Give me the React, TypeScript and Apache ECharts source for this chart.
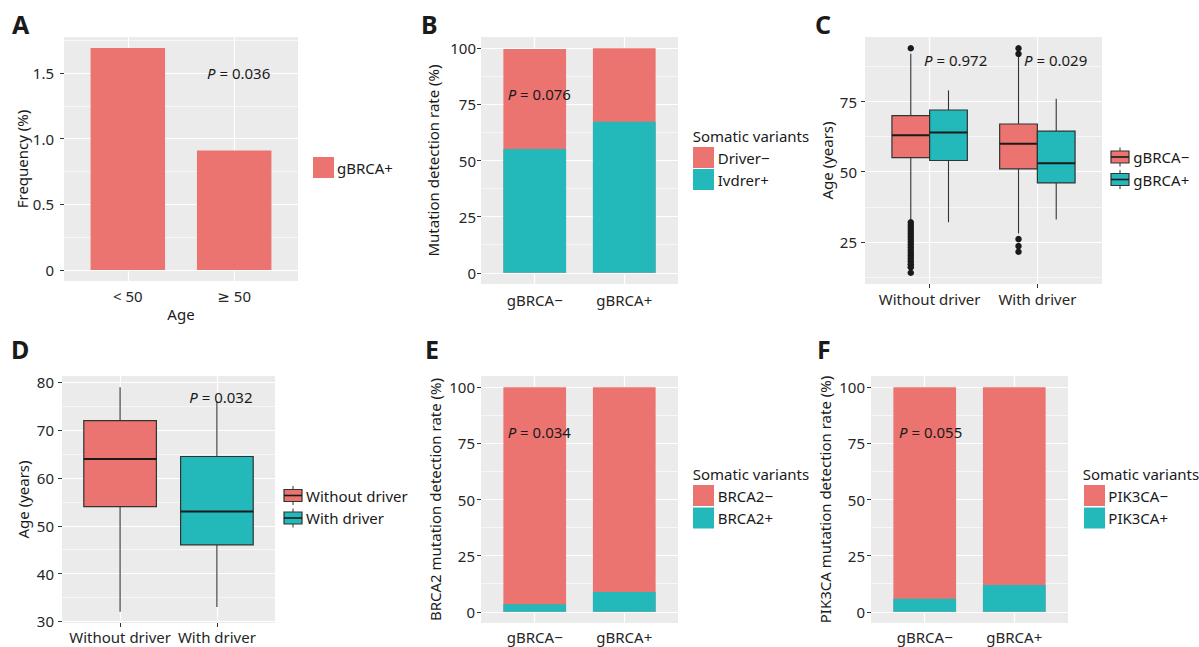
import React, { useEffect, useRef } from "react";
import * as echarts from "echarts";

// ---------------- data ----------------
// Panel A
const ageGroups = ["< 50", "≥ 50"];
const gbrcaPosFrequency = [1.69, 0.91];
const freqBreaks = [0, 0.5, 1.0, 1.5];
const freqBreakLabels = ["0", "0.5", "1.0", "1.5"];

// Panel B
const gbrcaGroups = ["gBRCA−", "gBRCA+"];
const driverNegRate = [44.6, 32.7];
const driverPosRate = [55.1, 67.3];
const pctBreaks = [0, 25, 50, 75, 100];
const pctBreakLabels = ["0", "25", "50", "75", "100"];
const driverLegend = ["Driver−", "Ivdrer+"];

// Panel C  [min, Q1, median, Q3, max]
const driverGroups = ["Without driver", "With driver"];
const ageStatsGbrcaNeg = [
  [33, 55, 63, 70, 92],
  [28, 51, 60, 67, 91],
];
const ageStatsGbrcaPos = [
  [32, 54, 64, 72, 79],
  [33, 46, 53, 64.5, 76],
];
const ageOutliersWithoutNeg = [94, 32, 31, 30, 29, 28, 27, 26, 25, 24, 23, 22, 21, 20, 19, 18, 17, 16, 14];
const ageOutliersWithNeg = [94, 92, 26, 23.5, 21.5];
const ageBreaksC = [25, 50, 75];
const gbrcaLegend = ["gBRCA−", "gBRCA+"];

// Panel D
const ageStatsD = [
  [32, 54, 64, 72, 79],
  [33, 46, 53, 64.5, 76],
];
const ageBreaksD = [30, 40, 50, 60, 70, 80];

// Panel E
const brca2NegRate = [96.6, 91.2];
const brca2PosRate = [3.4, 8.8];
const brca2Legend = ["BRCA2−", "BRCA2+"];

// Panel F
const pik3caNegRate = [94.2, 88.1];
const pik3caPosRate = [5.8, 11.9];
const pik3caLegend = ["PIK3CA−", "PIK3CA+"];

const pValues = ["0.036", "0.076", "0.972", "0.029", "0.032", "0.034", "0.055"];

// ---------------- styling ----------------
const FONT = "'Noto Sans', 'DejaVu Sans', sans-serif";
const RED = "#EC7470";
const TEAL = "#23B8B9";
const PANEL_BG = "#EBEBEB";
const TICK_TEXT = "#262626";
const TITLE_TEXT = "#1A1A1A";
const FS = 15;
const X_LIM = [0.4, 2.6];
const BAR_W = 0.7;
const DODGE_W = 0.35;
const BOX_W_D = 0.75;

function expand(lo: number, hi: number) {
  const d = (hi - lo) * 0.05;
  return [lo - d, hi + d];
}
function minorBreaks(breaks: number[], lim: number[]) {
  const step = breaks[1] - breaks[0];
  const out: number[] = [];
  for (let v = breaks[0] - step / 2; v <= breaks[breaks.length - 1] + step / 2 + 1e-9; v += step) {
    if (v >= lim[0] && v <= lim[1]) out.push(v);
  }
  return out;
}
const maxOf = (a: number[]) => Math.max(...a);
const minOf = (a: number[]) => Math.min(...a);
const sumPairs = (a: number[], b: number[]) => a.map((v, i) => v + b[i]);

const allC = [...ageStatsGbrcaNeg.flat(), ...ageStatsGbrcaPos.flat(), ...ageOutliersWithoutNeg, ...ageOutliersWithNeg];
const allD = ageStatsD.flat();

const panels = [
  { left: 64, top: 37, width: 234, height: 244, yLim: expand(0, maxOf(gbrcaPosFrequency)), yBreaks: freqBreaks, yLabels: freqBreakLabels, xLabels: ageGroups, yName: "Frequency (%)", yNameGap: 35, yMargin: 10, xMargin: 7, xName: "Age" },
  { left: 481, top: 37, width: 197, height: 247, yLim: expand(0, maxOf(sumPairs(driverNegRate, driverPosRate))), yBreaks: pctBreaks, yLabels: pctBreakLabels, xLabels: gbrcaGroups, yName: "Mutation detection rate (%)", yNameGap: 41, yMargin: 5, xMargin: 8 },
  { left: 865, top: 37, width: 237, height: 247, yLim: expand(minOf(allC), maxOf(allC)), yBreaks: ageBreaksC, yLabels: ageBreaksC.map(String), xLabels: driverGroups, yName: "Age (years)", yNameGap: 31, yMargin: 8, xMargin: 7 },
  { left: 62, top: 376, width: 213, height: 247, yLim: expand(minOf(allD), maxOf(allD)), yBreaks: ageBreaksD, yLabels: ageBreaksD.map(String), xLabels: driverGroups, yName: "Age (years)", yNameGap: 32, yMargin: 8, xMargin: 6 },
  { left: 481, top: 376, width: 197, height: 247, yLim: expand(0, maxOf(sumPairs(brca2NegRate, brca2PosRate))), yBreaks: pctBreaks, yLabels: pctBreakLabels, xLabels: gbrcaGroups, yName: "BRCA2 mutation detection rate (%)", yNameGap: 39, yMargin: 6, xMargin: 6 },
  { left: 871, top: 376, width: 197, height: 247, yLim: expand(0, maxOf(sumPairs(pik3caNegRate, pik3caPosRate))), yBreaks: pctBreaks, yLabels: pctBreakLabels, xLabels: gbrcaGroups, yName: "PIK3CA mutation detection rate (%)", yNameGap: 39, yMargin: 6, xMargin: 6 },
];

const pxPerUnit = (i: number) => panels[i].width / (X_LIM[1] - X_LIM[0]);

function gridSeries(i: number) {
  const p = panels[i];
  const minor = minorBreaks(p.yBreaks, p.yLim);
  return {
    type: "scatter",
    name: "grid" + i,
    xAxisIndex: i,
    yAxisIndex: i,
    data: [],
    silent: true,
    markLine: {
      silent: true,
      z: 1,
      symbol: ["none", "none"],
      label: { show: false },
      emphasis: { disabled: true },
      lineStyle: { color: "#FFFFFF", type: "solid", width: 1.2 },
      data: [
        ...minor.map((v) => ({ yAxis: v, lineStyle: { color: "#FFFFFF", type: "solid", width: 0.6 } })),
        ...p.yBreaks.map((v) => ({ yAxis: v, lineStyle: { color: "#FFFFFF", type: "solid", width: 1.2 } })),
        ...p.xLabels.map((_, k) => ({ xAxis: k + 1, lineStyle: { color: "#FFFFFF", type: "solid", width: 1.2 } })),
      ],
    },
  };
}

function boxRenderer(widthUnits: number, colors: string[]) {
  return (params: any, api: any) => {
    const x = api.value(0);
    const pMin = api.coord([x, api.value(1)]);
    const pQ1 = api.coord([x, api.value(2)]);
    const pMed = api.coord([x, api.value(3)]);
    const pQ3 = api.coord([x, api.value(4)]);
    const pMax = api.coord([x, api.value(5)]);
    const w = api.size([widthUnits, 0], [x, api.value(3)])[0];
    const cx = pMed[0];
    const fill = colors[params.dataIndex % colors.length];
    return {
      type: "group",
      children: [
        { type: "line", shape: { x1: cx, y1: pMax[1], x2: cx, y2: pQ3[1] }, style: { stroke: "#333333", lineWidth: 1.1 } },
        { type: "line", shape: { x1: cx, y1: pQ1[1], x2: cx, y2: pMin[1] }, style: { stroke: "#333333", lineWidth: 1.1 } },
        { type: "rect", shape: { x: cx - w / 2, y: pQ3[1], width: w, height: pQ1[1] - pQ3[1] }, style: { fill, stroke: "#333333", lineWidth: 1.2 } },
        { type: "line", shape: { x1: cx - w / 2, y1: pMed[1], x2: cx + w / 2, y2: pMed[1] }, style: { stroke: "#1A1A1A", lineWidth: 2 } },
      ],
    };
  };
}

// Stacked bars: the negative share sits on top of the positive share;
// drawn as an overlapping full-height bar (total) with the positive part over it.
function stackedBars(i: number, neg: number[], pos: number[], names: string[]) {
  const bw = BAR_W * pxPerUnit(i);
  const totals = sumPairs(neg, pos);
  return [
    { type: "bar", name: names[0], xAxisIndex: i, yAxisIndex: i, barWidth: bw, barGap: "-100%", silent: true, itemStyle: { color: RED }, data: totals.map((v, k) => [k + 1, v]) },
    { type: "bar", name: names[1], xAxisIndex: i, yAxisIndex: i, barWidth: bw, barGap: "-100%", silent: true, itemStyle: { color: TEAL }, data: pos.map((v, k) => [k + 1, v]) },
  ];
}

const GZ = 100;
function txt(x: number, y: number, text: string, extra: any = {}) {
  return { type: "text", x, y, z: GZ, silent: true, style: { text, fontFamily: FONT, fontSize: FS, fill: TITLE_TEXT, verticalAlign: "middle", align: "left", ...extra } };
}
function pText(x: number, y: number, value: string) {
  return {
    type: "text",
    x,
    y,
    z: GZ,
    silent: true,
    style: {
      text: "{i|P} = " + value,
      fontFamily: FONT,
      fontSize: FS,
      fill: TITLE_TEXT,
      verticalAlign: "middle",
      rich: { i: { fontStyle: "italic", fontFamily: FONT, fontSize: FS, fill: TITLE_TEXT } },
    },
  };
}
function letter(x: number, y: number, t: string) {
  return { type: "text", x, y, z: GZ, silent: true, style: { text: t, fontFamily: FONT, fontSize: 25, fontWeight: "bold", fill: "#1A1A1A", verticalAlign: "middle" } };
}
function fillKey(x: number, y: number, color: string) {
  return { type: "rect", z: GZ, silent: true, shape: { x, y, width: 21, height: 21 }, style: { fill: color } };
}
function boxKey(x: number, y: number, color: string) {
  const w = 18;
  const h = 12;
  return {
    type: "group",
    silent: true,
    children: [
      { type: "line", z: GZ, shape: { x1: x + w / 2, y1: y - 3.5, x2: x + w / 2, y2: y + h + 3.5 }, style: { stroke: "#333333", lineWidth: 1 } },
      { type: "rect", z: GZ, shape: { x, y, width: w, height: h }, style: { fill: color, stroke: "#333333", lineWidth: 1.2 } },
      { type: "line", z: GZ, shape: { x1: x, y1: y + h / 2, x2: x + w, y2: y + h / 2 }, style: { stroke: "#1A1A1A", lineWidth: 1.6 } },
    ],
  };
}

function buildOption() {
  const grid = panels.map((p) => ({
    left: p.left,
    top: p.top,
    width: p.width,
    height: p.height,
    show: true,
    backgroundColor: PANEL_BG,
    borderWidth: 0,
    containLabel: false,
    outerBoundsMode: "none",
  }));
  const xAxis = panels.map((p, i) => ({
    type: "value",
    gridIndex: i,
    min: X_LIM[0],
    max: X_LIM[1],
    axisLine: { show: false },
    axisTick: { show: true, customValues: p.xLabels.map((_, k) => k + 1), length: 4, lineStyle: { color: "#333333", width: 1 } },
    axisLabel: {
      show: true,
      customValues: p.xLabels.map((_, k) => k + 1),
      formatter: (v: number) => p.xLabels[Math.round(v) - 1] ?? "",
      color: TICK_TEXT,
      fontSize: FS,
      fontFamily: FONT,
      margin: p.xMargin,
    },
    splitLine: { show: false },
    name: (p as any).xName ?? "",
    nameLocation: "middle",
    nameGap: 25,
    nameMoveOverlap: false,
    nameTextStyle: { fontSize: FS, fontFamily: FONT, color: TITLE_TEXT },
  }));
  const yAxis = panels.map((p, i) => ({
    type: "value",
    gridIndex: i,
    min: p.yLim[0],
    max: p.yLim[1],
    axisLine: { show: false },
    axisTick: { show: true, customValues: p.yBreaks, length: 4, lineStyle: { color: "#333333", width: 1 } },
    axisLabel: {
      show: true,
      customValues: p.yBreaks,
      formatter: (v: number) => {
        const k = p.yBreaks.findIndex((b) => Math.abs(b - v) < 1e-9);
        return k >= 0 ? p.yLabels[k] : "";
      },
      color: TICK_TEXT,
      fontSize: FS,
      fontFamily: FONT,
      margin: p.yMargin,
    },
    splitLine: { show: false },
    name: p.yName,
    nameLocation: "middle",
    nameGap: p.yNameGap,
    nameMoveOverlap: false,
    nameTextStyle: { fontSize: FS, fontFamily: FONT, color: TITLE_TEXT },
  }));

  const series: any[] = [];
  panels.forEach((_, i) => series.push(gridSeries(i)));

  // A
  series.push({
    type: "bar",
    name: "gBRCA+",
    xAxisIndex: 0,
    yAxisIndex: 0,
    barWidth: BAR_W * pxPerUnit(0),
    silent: true,
    itemStyle: { color: RED },
    data: gbrcaPosFrequency.map((v, k) => [k + 1, v]),
  });
  // B
  series.push(...stackedBars(1, driverNegRate, driverPosRate, driverLegend));
  // C
  const boxEncode = { x: 0, y: [1, 2, 3, 4, 5] };
  series.push({
    type: "custom",
    name: gbrcaLegend[0],
    xAxisIndex: 2,
    yAxisIndex: 2,
    silent: true,
    encode: boxEncode,
    renderItem: boxRenderer(DODGE_W, [RED]),
    data: ageStatsGbrcaNeg.map((s, k) => [k + 1 - DODGE_W / 2, ...s]),
  });
  series.push({
    type: "custom",
    name: gbrcaLegend[1],
    xAxisIndex: 2,
    yAxisIndex: 2,
    silent: true,
    encode: boxEncode,
    renderItem: boxRenderer(DODGE_W, [TEAL]),
    data: ageStatsGbrcaPos.map((s, k) => [k + 1 + DODGE_W / 2, ...s]),
  });
  series.push({
    type: "scatter",
    name: "outliers",
    xAxisIndex: 2,
    yAxisIndex: 2,
    silent: true,
    symbolSize: 6.5,
    itemStyle: { color: "#1A1A1A", opacity: 1 },
    z: 3,
    data: [
      ...ageOutliersWithoutNeg.map((v) => [1 - DODGE_W / 2, v]),
      ...ageOutliersWithNeg.map((v) => [2 - DODGE_W / 2, v]),
    ],
  });
  // D
  series.push({
    type: "custom",
    name: "age",
    xAxisIndex: 3,
    yAxisIndex: 3,
    silent: true,
    encode: boxEncode,
    renderItem: boxRenderer(BOX_W_D, [RED, TEAL]),
    data: ageStatsD.map((s, k) => [k + 1, ...s]),
  });
  // E, F
  series.push(...stackedBars(4, brca2NegRate, brca2PosRate, brca2Legend));
  series.push(...stackedBars(5, pik3caNegRate, pik3caPosRate, pik3caLegend));

  const graphic: any[] = [
    letter(12, 24, "A"),
    letter(421, 24, "B"),
    letter(815, 24, "C"),
    letter(11, 348.5, "D"),
    letter(425, 349, "E"),
    letter(817, 348.5, "F"),
    pText(207, 72.7, pValues[0]),
    pText(507.7, 94.3, pValues[1]),
    pText(924, 60, pValues[2]),
    pText(1024, 60, pValues[3]),
    pText(189.3, 396.7, pValues[4]),
    pText(507.7, 431.7, pValues[5]),
    pText(899, 431.7, pValues[6]),
    // legend A
    fillKey(313, 157, RED),
    txt(337, 167.5, "gBRCA+"),
    // legend B
    txt(692.7, 136, "Somatic variants"),
    fillKey(693, 147, RED),
    fillKey(693, 169, TEAL),
    txt(717.7, 157.5, driverLegend[0]),
    txt(717.7, 179.5, driverLegend[1]),
    // legend C
    boxKey(1111, 151, RED),
    boxKey(1111, 173.5, TEAL),
    txt(1133.3, 157, gbrcaLegend[0]),
    txt(1133.3, 179.5, gbrcaLegend[1]),
    // legend D
    boxKey(284, 489.5, RED),
    boxKey(284, 512, TEAL),
    txt(306, 495.5, driverGroups[0]),
    txt(306, 517.5, driverGroups[1]),
    // legend E
    txt(692.7, 474, "Somatic variants"),
    fillKey(693, 485, RED),
    fillKey(693, 507.5, TEAL),
    txt(717.7, 495.5, brca2Legend[0]),
    txt(717.7, 518, brca2Legend[1]),
    // legend F
    txt(1082.7, 474, "Somatic variants"),
    fillKey(1084, 485, RED),
    fillKey(1084, 507.5, TEAL),
    txt(1108.3, 495.5, pik3caLegend[0]),
    txt(1108.3, 518, pik3caLegend[1]),
  ];

  return {
    animation: false,
    backgroundColor: "#FFFFFF",
    textStyle: { fontFamily: FONT },
    tooltip: { show: false },
    grid,
    xAxis,
    yAxis,
    series,
    graphic,
  };
}

export default function App() {
  const ref = useRef<HTMLDivElement>(null);
  useEffect(() => {
    document.body.style.margin = "0";
    document.documentElement.style.margin = "0";
    if (!ref.current) return;
    const chart = echarts.init(ref.current, undefined, { renderer: "svg", width: 1199, height: 647 });
    chart.setOption(buildOption() as any);
    return () => {
      chart.dispose();
    };
  }, []);
  return <div ref={ref} style={{ width: 1199, height: 647, margin: 0, background: "#FFFFFF" }} />;
}
